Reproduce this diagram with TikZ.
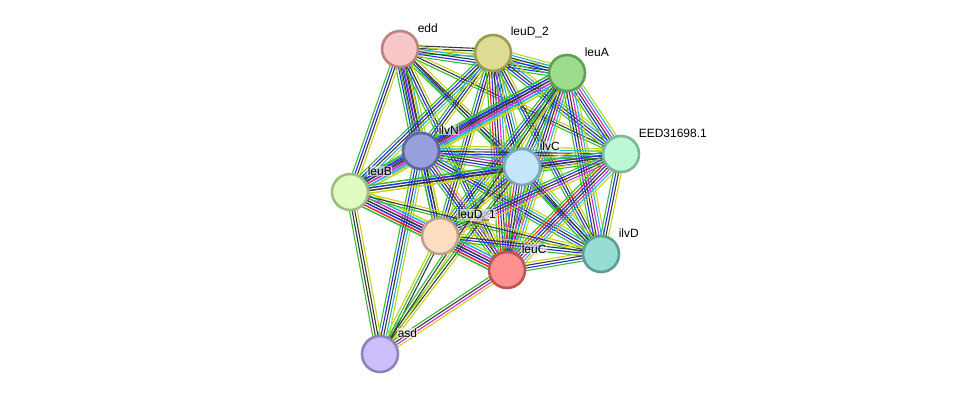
\documentclass[tikz,border=0pt]{standalone}
\usepackage{fontspec}
\setmainfont{Liberation Sans}
\usetikzlibrary{calc,backgrounds}

\definecolor{sgreen}{HTML}{33BE33}
\definecolor{syellow}{HTML}{C4D41C}
\definecolor{sblack}{HTML}{3A3A3A}
\definecolor{sblue}{HTML}{2B2BEE}
\definecolor{scyan}{HTML}{22B4D8}
\definecolor{smagenta}{HTML}{D22BD2}
\definecolor{sred}{HTML}{EE2222}

\tikzset{
  prot/.style={circle, minimum size=36pt, inner sep=0pt, line width=2.6pt},
  lbl/.style={anchor=west, inner sep=0.6pt, fill=white, fill opacity=0.55,
    text opacity=1, font=\fontsize{12}{14}\selectfont},
}

% one bundle of parallel lines between two proteins
\newcommand\slink[3]{%
  \foreach \col [count=\k] in {#3} {\xdef\nlines{\k}}
  \foreach \col [count=\k] in {#3} {
    \pgfmathsetmacro\off{(\k-(\nlines+1)/2)*2.6}
    \draw[\col, line width=1.1pt] ($(#1.center)!\off pt!90:(#2.center)$)
      -- ($(#2.center)!\off pt!-90:(#1.center)$);
  }
}

\begin{document}
\begin{tikzpicture}[x=1pt, y=-1pt]
\useasboundingbox (0,0) rectangle (976,400);

% proteins
\node[prot, draw={rgb,255:red,185;green,131;blue,131}, fill={rgb,255:red,247;green,198;blue,198}] (edd) at (400,49) {};
\node[prot, draw={rgb,255:red,160;green,155;blue,84}, fill={rgb,255:red,222;green,219;blue,147}] (leuD2) at (493,53) {};
\node[prot, draw={rgb,255:red,95;green,159;blue,84}, fill={rgb,255:red,157;green,220;blue,141}] (leuA) at (567,73) {};
\node[prot, draw={rgb,255:red,94;green,102;blue,159}, fill={rgb,255:red,151;green,160;blue,220}] (ilvN) at (421,151) {};
\node[prot, draw={rgb,255:red,127;green,166;blue,191}, fill={rgb,255:red,196;green,230;blue,250}] (ilvC) at (522,167) {};
\node[prot, draw={rgb,255:red,123;green,183;blue,153}, fill={rgb,255:red,189;green,248;blue,214}] (eed) at (621,154) {};
\node[prot, draw={rgb,255:red,160;green,187;blue,131}, fill={rgb,255:red,222;green,252;blue,192}] (leuB) at (350,192) {};
\node[prot, draw={rgb,255:red,189;green,162;blue,134}, fill={rgb,255:red,253;green,221;blue,191}] (leuD1) at (440,236) {};
\node[prot, draw={rgb,255:red,187;green,85;blue,85}, fill={rgb,255:red,255;green,144;blue,144}] (leuC) at (507,270) {};
\node[prot, draw={rgb,255:red,90;green,158;blue,151}, fill={rgb,255:red,151;green,221;blue,212}] (ilvD) at (601,254) {};
\node[prot, draw={rgb,255:red,145;green,129;blue,189}, fill={rgb,255:red,205;green,191;blue,251}] (asd) at (380,354) {};

% labels
\node[lbl] (edd-l) at ($(edd)+(17,-21)$) {edd};
\node[lbl] (leuD2-l) at ($(leuD2)+(17,-21)$) {leuD\_2};
\node[lbl] (leuA-l) at ($(leuA)+(17,-21)$) {leuA};
\node[lbl] (ilvN-l) at ($(ilvN)+(17,-21)$) {ilvN};
\node[lbl] (ilvC-l) at ($(ilvC)+(17,-21)$) {ilvC};
\node[lbl] (eed-l) at ($(eed)+(17,-21)$) {EED31698.1};
\node[lbl] (leuB-l) at ($(leuB)+(17,-21)$) {leuB};
\node[lbl] (leuD1-l) at ($(leuD1)+(17,-21)$) {leuD\_1};
\node[lbl] (leuC-l) at ($(leuC)+(14,-21)$) {leuC};
\node[lbl] (ilvD-l) at ($(ilvD)+(17,-21)$) {ilvD};
\node[lbl] (asd-l) at ($(asd)+(17,-21)$) {asd};

\begin{pgfonlayer}{background}
  \slink{edd}{leuD2}{sgreen,syellow,sblack,sblack}
  \slink{edd}{leuA}{sgreen,sblue,sblack,scyan,syellow}
  \slink{edd}{ilvN}{sgreen,sblue,sblack,smagenta,sblack,scyan,syellow}
  \slink{edd}{ilvC}{sgreen,sblue,sblack,syellow}
  \slink{edd}{eed}{sgreen,sblack,syellow}
  \slink{edd}{leuB}{sgreen,sblue,sblack,syellow}
  \slink{edd}{leuD1}{sgreen,sblue,sblack,syellow}
  \slink{edd}{leuC}{sgreen,sblue,sblack,syellow}
  \slink{edd}{ilvD}{sgreen,sblack}
  \slink{leuD2}{leuA}{sgreen,sblue,sblack,scyan,syellow}
  \slink{leuD2}{ilvN}{sgreen,sblue,sblack,syellow}
  \slink{leuD2}{ilvC}{sgreen,sblue,sblack,scyan,syellow}
  \slink{leuD2}{eed}{sgreen,sblue,sblack,scyan,syellow}
  \slink{leuD2}{leuB}{sgreen,sblue,sblack,scyan,syellow}
  \slink{leuD2}{leuD1}{sgreen,sblue,sblack,syellow}
  \slink{leuD2}{leuC}{sgreen,sred,sblue,sblack,smagenta,scyan,syellow}
  \slink{leuD2}{ilvD}{sgreen,sblue,sblack,syellow}
  \slink{leuA}{ilvN}{sgreen,sblue,sblack,smagenta,scyan,syellow}
  \slink{leuA}{ilvC}{sgreen,sblue,sblack,scyan,syellow}
  \slink{leuA}{eed}{sgreen,sblue,sblack,smagenta,scyan,syellow}
  \slink{leuA}{leuB}{sgreen,sblue,sblack,smagenta,scyan,syellow}
  \slink{leuA}{leuD1}{sgreen,sblue,sblack,scyan,syellow}
  \slink{leuA}{leuC}{sgreen,sblue,sblack,smagenta,scyan,syellow}
  \slink{leuA}{ilvD}{sgreen,sblue,sblack,smagenta,scyan,syellow}
  \slink{ilvN}{ilvC}{sgreen,sblue,sblack,smagenta,scyan,syellow}
  \slink{ilvN}{eed}{sgreen,sblue,sblack,scyan,syellow}
  \slink{ilvN}{leuB}{sgreen,sblue,sblack,smagenta,scyan,syellow}
  \slink{ilvN}{leuD1}{sgreen,sblue,sblack,syellow}
  \slink{ilvN}{leuC}{sgreen,sblue,sblack,smagenta,syellow}
  \slink{ilvN}{ilvD}{sgreen,sblue,sblack,scyan,syellow}
  \slink{ilvN}{asd}{sgreen,sblue,sblack,scyan,syellow}
  \slink{ilvC}{eed}{sgreen,sblue,sblack,smagenta,scyan,syellow}
  \slink{ilvC}{leuB}{sgreen,sblue,sblack,syellow}
  \slink{ilvC}{leuD1}{sgreen,sblue,sblack,syellow}
  \slink{ilvC}{leuC}{sgreen,sred,sblue,sblack,smagenta,scyan,syellow}
  \slink{ilvC}{ilvD}{sgreen,sblue,sblack,scyan,syellow}
  \slink{ilvC}{asd}{sgreen,sblack,syellow}
  \slink{eed}{leuB}{sgreen,sblue,sblack,syellow}
  \slink{eed}{leuD1}{sgreen,sblue,sblack,smagenta,syellow}
  \slink{eed}{leuC}{sgreen,sred,sblue,sblack,smagenta,scyan,syellow}
  \slink{eed}{ilvD}{sgreen,sblue,sblack,syellow}
  \slink{leuB}{leuD1}{sgreen,sred,sblue,sblack,smagenta,scyan,syellow}
  \slink{leuB}{leuC}{sgreen,sred,sblue,sblack,smagenta,scyan,syellow}
  \slink{leuB}{ilvD}{sgreen,sblack,syellow}
  \slink{leuB}{asd}{sgreen,sblack,sblack,syellow}
  \slink{leuD1}{leuC}{sgreen,sred,sblue,sblack,smagenta,scyan,syellow}
  \slink{leuD1}{ilvD}{sgreen,sblue,sblack,syellow}
  \slink{leuD1}{asd}{syellow,sgreen,sblack}
  \slink{leuC}{ilvD}{sgreen,sblue,sblack,syellow}
  \slink{leuC}{asd}{sgreen,sblack,smagenta,syellow}
  \slink{leuA}{asd}{sgreen,sblack,syellow}
\end{pgfonlayer}
\end{tikzpicture}
\end{document}
